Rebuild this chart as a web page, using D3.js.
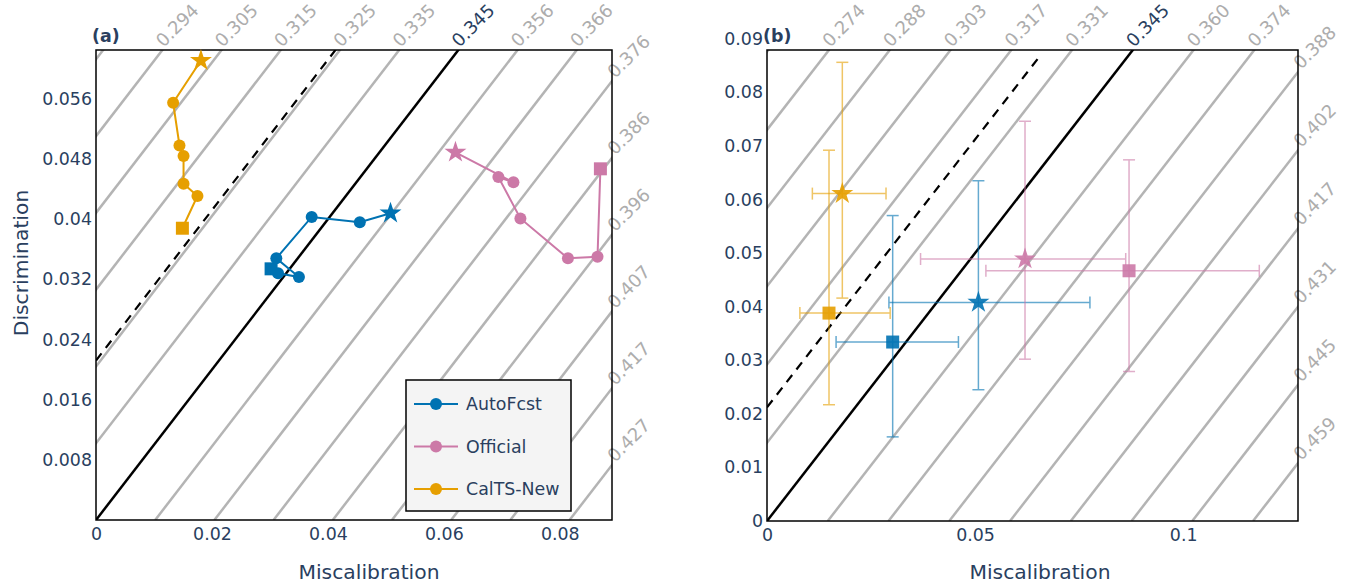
<!DOCTYPE html>
<html>
<head>
<meta charset="utf-8">
<script src="https://cdn.jsdelivr.net/npm/d3@7"></script>
<style>
  body { margin: 0; background: #fff; }
  svg text { font-family: "DejaVu Sans", Verdana, sans-serif; }
</style>
</head>
<body>
<svg id="chart" width="1362" height="587"></svg>
<script>
// series names and colours
const seriesNames = ["AutoFcst", "Official", "CalTS-New"];
const seriesColors = ["#0072B2", "#CC79A7", "#E69F00"];

// panel (a): trajectories, first point = square, last point = star
const autoFcstMcb = [0.0302, 0.0314, 0.0350, 0.0311, 0.0372, 0.0455, 0.0508];
const autoFcstDsc = [0.0334, 0.0328, 0.0323, 0.0348, 0.0403, 0.0396, 0.0408];
const officialMcb = [0.0870, 0.0865, 0.0814, 0.0732, 0.0694, 0.0720, 0.0620];
const officialDsc = [0.0467, 0.0350, 0.0348, 0.0401, 0.0456, 0.0449, 0.0489];
const caltsMcb = [0.0149, 0.0175, 0.0151, 0.0151, 0.0144, 0.0133, 0.0181];
const caltsDsc = [0.0388, 0.0431, 0.0447, 0.0484, 0.0498, 0.0555, 0.0611];

// panel (b): first / last points with intervals
const ciSeries = [0, 0, 1, 1, 2, 2];
const ciIsLast = [false, true, false, true, false, true];
const ciMcb   = [0.0302, 0.0508, 0.0870, 0.0620, 0.0149, 0.0181];
const ciDsc   = [0.0334, 0.0408, 0.0467, 0.0489, 0.0388, 0.0611];
const ciMcbLo = [0.0166, 0.0293, 0.0526, 0.0369, 0.0079, 0.0109];
const ciMcbHi = [0.0460, 0.0776, 0.1183, 0.0862, 0.0296, 0.0286];
const ciDscLo = [0.0157, 0.0245, 0.0279, 0.0302, 0.0217, 0.0416];
const ciDscHi = [0.0570, 0.0635, 0.0674, 0.0746, 0.0692, 0.0856];

// score isolines: MCB - DSC = k * step, labelled with the score
const refIntercept = 0.0212;     // dashed reference line: DSC = MCB + intercept
const refMcbEnd = 0.065;
const isoStepA = 0.01021;
const isoStepB = 0.0146;
const isoLabelsA = ["0.294","0.305","0.315","0.325","0.335","0.345","0.356","0.366","0.376","0.386","0.396","0.407","0.417","0.427"];
const isoLabelsB = ["0.274","0.288","0.303","0.317","0.331","0.345","0.360","0.374","0.388","0.402","0.417","0.431","0.445","0.459"];

// axis ticks
const xTicksA = [0, 0.02, 0.04, 0.06, 0.08];
const yTicksA = [0.008, 0.016, 0.024, 0.032, 0.04, 0.048, 0.056];
const xTicksB = [0, 0.05, 0.1];
const yTicksB = [0, 0.01, 0.02, 0.03, 0.04, 0.05, 0.06, 0.07, 0.08, 0.09];

const navy = "#2a3f5f";
const tickFont = 17.4;
const fmt = v => String(+v.toFixed(3));

const svg = d3.select("#chart");
svg.append("rect").attr("width", 1362).attr("height", 587).attr("fill", "#fff");

const panels = [
  {id: "a", left: 96, top: 50, right: 612, bottom: 520, xMax: 0.089, yMax: 0.0625,
   xTicks: xTicksA, yTicks: yTicksA, step: isoStepA, labels: isoLabelsA, titleX: 369},
  {id: "b", left: 767, top: 50, right: 1298, bottom: 521, xMax: 0.1276, yMax: 0.0879,
   xTicks: xTicksB, yTicks: yTicksB, step: isoStepB, labels: isoLabelsB, titleX: 1040}
];

panels.forEach(p => {
  p.x = d3.scaleLinear().domain([0, p.xMax]).range([p.left, p.right]);
  p.y = d3.scaleLinear().domain([0, p.yMax]).range([p.bottom, p.top]);
  const clipId = "clip-" + p.id;
  svg.append("clipPath").attr("id", clipId)
    .append("rect").attr("x", p.left).attr("y", p.top)
    .attr("width", p.right - p.left).attr("height", p.bottom - p.top);

  const iso = svg.append("g").attr("clip-path", `url(#${clipId})`);
  d3.range(-6, 9).forEach(k => {
    const c = k * p.step;
    iso.append("line")
      .attr("x1", p.x(c)).attr("y1", p.y(0))
      .attr("x2", p.x(c + 1)).attr("y2", p.y(1))
      .attr("stroke", k === 0 ? "#000" : "#b4b4b4")
      .attr("stroke-width", 2.5);
  });
  // dashed reference line
  iso.append("line")
    .attr("x1", p.x(0)).attr("y1", p.y(refIntercept))
    .attr("x2", p.x(refMcbEnd)).attr("y2", p.y(refMcbEnd + refIntercept))
    .attr("stroke", "#000").attr("stroke-width", 2.2)
    .attr("stroke-dasharray", "9,7");

  // isoline labels at the upper end of each line
  p.labels.forEach((lab, i) => {
    const k = i - 5;
    const c = k * p.step;
    let ex, ey, dx = 1;
    if (p.yMax + c <= p.xMax) { ex = p.yMax + c; ey = p.yMax; }
    else { ex = p.xMax; ey = p.xMax - c; dx = 3; }
    svg.append("text")
      .attr("transform", `translate(${p.x(ex) + dx},${p.y(ey) - 2}) rotate(-45)`)
      .attr("font-size", 18)
      .attr("fill", k === 0 ? navy : "#adadad")
      .text(lab);
  });

  // axes
  const gx = svg.append("g").attr("transform", `translate(0,${p.bottom})`)
    .call(d3.axisBottom(p.x).tickValues(p.xTicks).tickFormat(fmt).tickSize(0).tickPadding(8));
  const gy = svg.append("g").attr("transform", `translate(${p.left},0)`)
    .call(d3.axisLeft(p.y).tickValues(p.yTicks).tickFormat(fmt).tickSize(0).tickPadding(4));
  [gx, gy].forEach(g => {
    g.select(".domain").remove();
    g.selectAll("text").attr("font-size", tickFont).attr("fill", navy)
      .attr("font-family", "DejaVu Sans, sans-serif");
  });

  svg.append("rect").attr("x", p.left).attr("y", p.top)
    .attr("width", p.right - p.left).attr("height", p.bottom - p.top)
    .attr("fill", "none").attr("stroke", "#000").attr("stroke-width", 1.5);

  svg.append("text").attr("x", p.titleX).attr("y", 579)
    .attr("text-anchor", "middle").attr("font-size", 20.3).attr("fill", navy)
    .text("Miscalibration");

  svg.append("text").attr("x", p.left - 4).attr("y", 42)
    .attr("font-size", 17.4).attr("font-weight", "bold").attr("fill", navy)
    .text(`(${p.id})`);
});

svg.append("text")
  .attr("transform", "translate(28,263) rotate(-90)")
  .attr("text-anchor", "middle").attr("font-size", 20.3).attr("fill", navy)
  .text("Discrimination");

// symbols
const square = d3.symbol().type(d3.symbolSquare).size(169);
const star = d3.symbol().type(d3.symbolStar).size(150);

// panel (a) trajectories
const pa = panels[0];
const traj = [
  {mcb: autoFcstMcb, dsc: autoFcstDsc},
  {mcb: officialMcb, dsc: officialDsc},
  {mcb: caltsMcb, dsc: caltsDsc}
];
traj.forEach((s, si) => {
  const pts = s.mcb.map((m, i) => [m, s.dsc[i]]);
  const col = seriesColors[si];
  svg.append("path")
    .attr("d", d3.line().x(d => pa.x(d[0])).y(d => pa.y(d[1]))(pts))
    .attr("fill", "none").attr("stroke", col).attr("stroke-width", 2);
  pts.forEach((d, i) => {
    const cx = pa.x(d[0]), cy = pa.y(d[1]);
    if (i === 0) {
      svg.append("path").attr("d", square()).attr("transform", `translate(${cx},${cy})`).attr("fill", col);
    } else if (i === pts.length - 1) {
      svg.append("path").attr("d", star()).attr("transform", `translate(${cx},${cy})`).attr("fill", col);
    } else {
      svg.append("circle").attr("cx", cx).attr("cy", cy).attr("r", 6).attr("fill", col);
    }
  });
});

// legend
const lg = svg.append("g");
lg.append("rect").attr("x", 406).attr("y", 380).attr("width", 165).attr("height", 131)
  .attr("fill", "#f4f4f4").attr("stroke", "#000").attr("stroke-width", 1.5);
seriesNames.forEach((name, i) => {
  const yy = 404 + i * 42.5;
  lg.append("line").attr("x1", 414).attr("x2", 458).attr("y1", yy).attr("y2", yy)
    .attr("stroke", seriesColors[i]).attr("stroke-width", 2);
  lg.append("circle").attr("cx", 436).attr("cy", yy).attr("r", 6).attr("fill", seriesColors[i]);
  lg.append("text").attr("x", 466).attr("y", yy).attr("dy", "0.35em")
    .attr("font-size", 17.4).attr("fill", navy).text(name);
});

// panel (b) points with intervals
const pb = panels[1];
const eb = svg.append("g");
const cap = 6;
ciMcb.forEach((m, i) => {
  const col = seriesColors[ciSeries[i]];
  const g = eb.append("g").attr("stroke", col).attr("stroke-width", 1.5).attr("opacity", 0.6);
  const cx = pb.x(m), cy = pb.y(ciDsc[i]);
  const y0 = pb.y(ciDscLo[i]), y1 = pb.y(ciDscHi[i]);
  const x0 = pb.x(ciMcbLo[i]), x1 = pb.x(ciMcbHi[i]);
  g.append("line").attr("x1", cx).attr("x2", cx).attr("y1", y0).attr("y2", y1);
  g.append("line").attr("x1", cx - cap).attr("x2", cx + cap).attr("y1", y0).attr("y2", y0);
  g.append("line").attr("x1", cx - cap).attr("x2", cx + cap).attr("y1", y1).attr("y2", y1);
  g.append("line").attr("x1", x0).attr("x2", x1).attr("y1", cy).attr("y2", cy);
  g.append("line").attr("x1", x0).attr("x2", x0).attr("y1", cy - cap).attr("y2", cy + cap);
  g.append("line").attr("x1", x1).attr("x2", x1).attr("y1", cy - cap).attr("y2", cy + cap);
});
ciMcb.forEach((m, i) => {
  const col = seriesColors[ciSeries[i]];
  svg.append("path").attr("d", ciIsLast[i] ? star() : square())
    .attr("transform", `translate(${pb.x(m)},${pb.y(ciDsc[i])})`)
    .attr("fill", col).attr("opacity", 0.9);
});
</script>
</body>
</html>
